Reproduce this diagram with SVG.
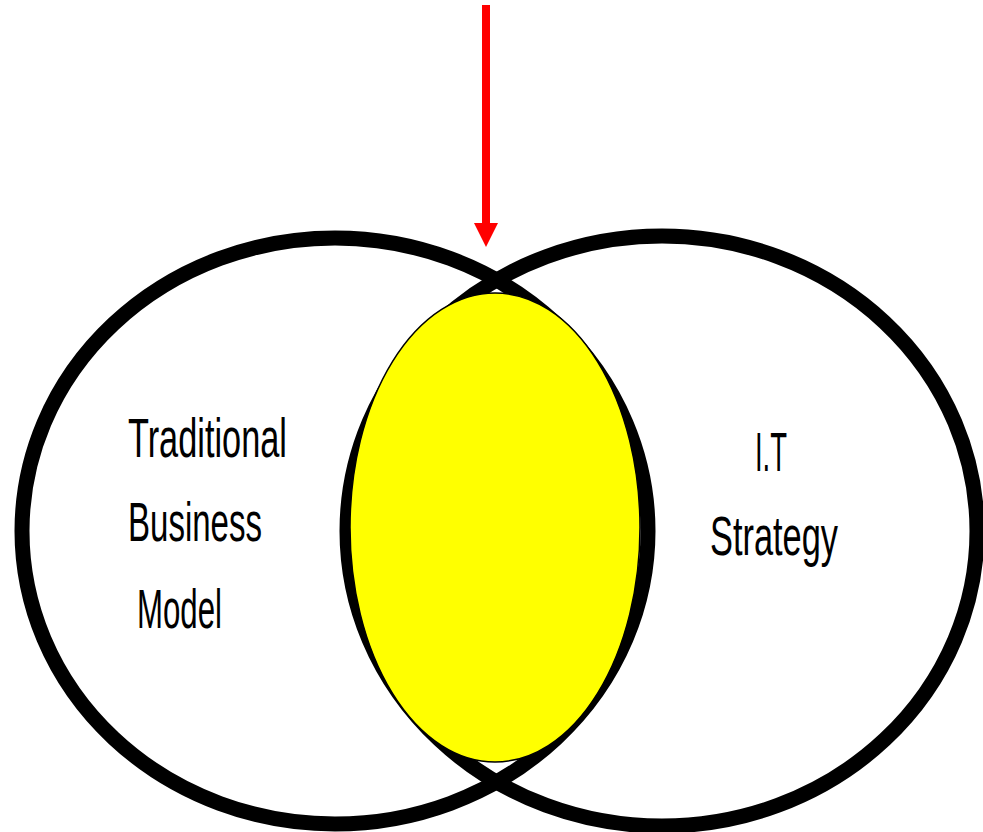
<svg xmlns="http://www.w3.org/2000/svg" width="983" height="832" viewBox="0 0 983 832">
<style>
.ring{fill:none;stroke:#000;stroke-width:15}
.lbl{font-family:"Liberation Sans","DejaVu Sans",sans-serif;font-size:55px;fill:#000}
</style>
<defs>
<marker id="ah" markerUnits="userSpaceOnUse" markerWidth="24" markerHeight="24" refX="0" refY="12" orient="auto" viewBox="0 0 24 24">
<path d="M0,0 L24,12 L0,24 Z" fill="#f00"/>
</marker>
</defs>
<rect width="983" height="832" fill="#fff"/>
<g id="left-circle"><ellipse class="ring" cx="335" cy="531" rx="313" ry="293"/></g>
<g id="right-circle"><ellipse class="ring" cx="662" cy="531" rx="315" ry="295"/></g>
<g id="overlap"><ellipse cx="495" cy="527.5" rx="145" ry="234.5" fill="#ff0" stroke="#000" stroke-width="1.5"/></g>
<g id="connectors"><line x1="486" y1="5" x2="486" y2="223" stroke="#f00" stroke-width="8" marker-end="url(#ah)"/></g>
<g id="left-label">
<text class="lbl" x="128" y="457" textLength="159" lengthAdjust="spacingAndGlyphs">Traditional</text>
<text class="lbl" x="128" y="541" textLength="134" lengthAdjust="spacingAndGlyphs">Business</text>
<text class="lbl" x="137" y="628" textLength="85" lengthAdjust="spacingAndGlyphs">Model</text>
</g>
<g id="right-label">
<text class="lbl" x="755" y="471" textLength="32" lengthAdjust="spacingAndGlyphs">I.T</text>
<text class="lbl" x="710" y="555" textLength="128" lengthAdjust="spacingAndGlyphs">Strategy</text>
</g>
</svg>
